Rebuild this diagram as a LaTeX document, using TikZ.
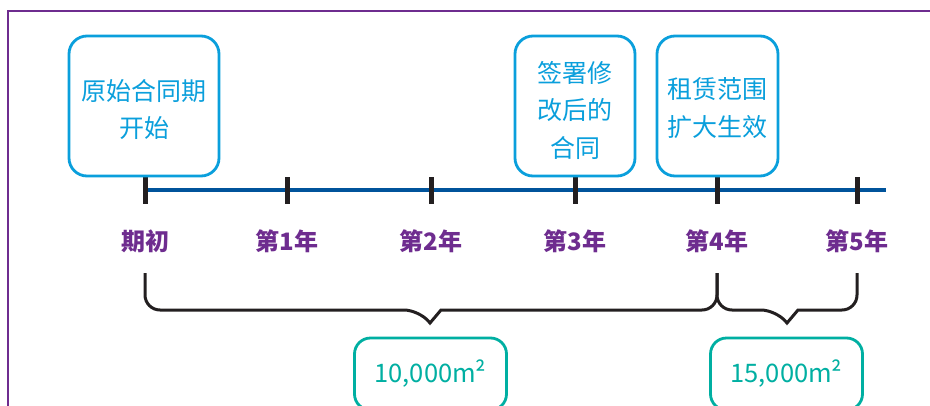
\documentclass[tikz,border=0pt]{standalone}
\usepackage{fontspec}
\setmainfont{Noto Sans CJK SC}
\usetikzlibrary{calc}
\definecolor{purp}{HTML}{6E2C8F}
\definecolor{cyanc}{HTML}{0A9FDC}
\definecolor{tealc}{HTML}{00AFA2}
\definecolor{lineblue}{HTML}{00539B}
\definecolor{inkc}{HTML}{231F20}
\tikzset{
  evbox/.style={draw=cyanc, line width=2.8pt, rounded corners=18pt, fill=white,
    inner sep=0pt, minimum height=140pt},
  evtext/.style={text=cyanc, align=center, inner sep=0pt, font=\fontsize{25}{37.5}\selectfont},
  areabox/.style={draw=tealc, line width=2.8pt, rounded corners=16pt, fill=white, text=tealc,
    align=center, inner sep=0pt, minimum height=72pt, minimum width=152pt, font=\fontsize{25.5}{28}\selectfont},
  yearlbl/.style={text=purp, font=\fontsize{24}{28}\selectfont\bfseries, inner sep=0pt},
  tickmark/.style={draw=inkc, line width=5pt},
  bracec/.style={draw=inkc, line width=3pt, line join=miter},
  axisline/.style={draw=lineblue, line width=3.5pt}
}
\begin{document}
\begin{tikzpicture}[x=1pt,y=-1pt]
\clip (0,0) rectangle (930,405);
\fill[white] (0,0) rectangle (930,405);
% frame
\draw[purp, line width=2pt] (8,406) -- (8,11) -- (931,11);
% axis coordinates
\foreach \i/\x in {0/145,1/287,2/431,3/575,4/717,5/857}{
  \coordinate (t\i) at (\x,190);
  \coordinate (b\i) at (\x,273);
}
\coordinate (tend) at (886,190);
\draw[axisline] (t0) -- (tend);
\foreach \i in {0,...,5}{
  \draw[tickmark] ($(t\i)+(0,-13)$) -- ($(t\i)+(0,14)$);
}
% year labels
\node[yearlbl] (l0) at (145,241) {期初};
\node[yearlbl] (l1) at (287,241) {第1年};
\node[yearlbl] (l2) at (431,241) {第2年};
\node[yearlbl] (l3) at (575,241) {第3年};
\node[yearlbl] (l4) at (717,241) {第4年};
\node[yearlbl] (l5) at (857,241) {第5年};
% event boxes
\node[evbox, minimum width=150pt] (e0) at (144,106) {};
\node[evtext] (e0t) at (144,109.5) {原始合同期\\开始};
\node[evbox, minimum width=120pt] (e3) at (575,106) {};
\node[evtext] (e3t) at (575,110) {签署修\\改后的\\合同};
\node[evbox, minimum width=121pt] (e4) at (717.5,106) {};
\node[evtext] (e4t) at (717.5,108) {租赁范围\\扩大生效};
% braces
\coordinate (tipA) at (430,323);
\coordinate (tipB) at (787,323);
\draw[bracec] (b0) [rounded corners=15pt] |- ($(tipA)+(-11,-13)$) [sharp corners] -- (tipA) -- ($(tipA)+(11,-13)$) [rounded corners=15pt] -| (b4);
\draw[bracec] (b4) [rounded corners=15pt] |- ($(tipB)+(-11,-13)$) [sharp corners] -- (tipB) -- ($(tipB)+(11,-13)$) [rounded corners=15pt] -| (b5);
% area boxes
\node[areabox] (a1) at (430.5,374) {10,000m²};
\node[areabox] (a2) at (786.5,374) {15,000m²};
\end{tikzpicture}
\end{document}
